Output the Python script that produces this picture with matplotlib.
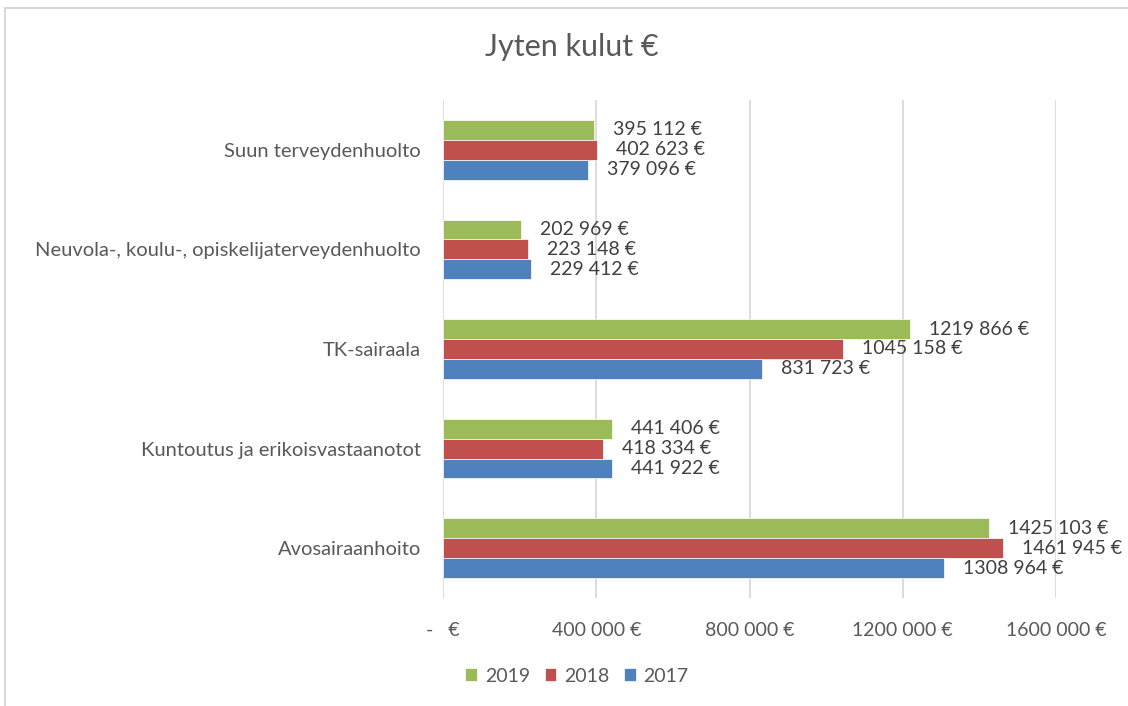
import matplotlib.pyplot as plt
import numpy as np
from matplotlib.patches import Rectangle

# data (bottom to top)
categories = ["Avosairaanhoito", "Kuntoutus ja erikoisvastaanotot", "TK-sairaala",
              "Neuvola-, koulu-, opiskelijaterveydenhuolto", "Suun terveydenhuolto"]
years = ["2019", "2018", "2017"]
v2019 = [1425103, 441406, 1219866, 202969, 395112]
v2018 = [1461945, 418334, 1045158, 223148, 402623]
v2017 = [1308964, 441922, 831723, 229412, 379096]
xticks = [0, 400000, 800000, 1200000, 1600000]
xtick_labels = ["-   €", "400 000 €", "800 000 €", "1200 000 €", "1600 000 €"]

colors = {"2019": "#9bbb59", "2018": "#c0504d", "2017": "#4f81bd"}
series = {"2019": v2019, "2018": v2018, "2017": v2017}
text_col = "#595959"

plt.rcParams['font.family'] = ['Lato', 'DejaVu Sans']


def fmt(v):
    # same look as the excel labels: only the last thousands gets a space
    return f"{v // 1000} {v % 1000:03d} €"


fig = plt.figure(figsize=(11.28, 7.06), dpi=100)
ax = fig.add_axes([443 / 1128, 1 - 598 / 706, 613 / 1128, 498 / 706])

y = np.arange(len(categories))
h = 0.2
offsets = {"2019": h, "2018": 0, "2017": -h}

for yr in years:
    vals = series[yr]
    bars = ax.barh(y + offsets[yr], vals, height=h, color=colors[yr],
                   edgecolor="white", linewidth=0.5, label=yr, zorder=3)
    for b, v in zip(bars, vals):
        ax.annotate(fmt(v), (b.get_width(), b.get_y() + b.get_height() / 2),
                    xytext=(19, 0), textcoords="offset pixels",
                    va="center", ha="left", fontsize=14, color="#404040")

ax.set_xlim(0, 1600000)
ax.set_ylim(-0.5, len(categories) - 0.5)
ax.set_xticks(xticks)
ax.set_xticklabels(xtick_labels, fontsize=14, color=text_col)
ax.set_yticks(y)
ax.set_yticklabels(categories, fontsize=14.5, color=text_col)
ax.tick_params(axis="both", length=0)
ax.tick_params(axis="x", pad=17)
ax.tick_params(axis="y", pad=16)
ax.grid(axis="x", color="#d9d9d9", linewidth=1.3, zorder=0)
for s in ax.spines.values():
    s.set_visible(False)

fig.suptitle("Jyten kulut €", x=0.507, y=1 - 47 / 706, va="center",
             fontsize=22, color=text_col)

ax.legend(loc="center", bbox_to_anchor=(577 / 1128, 1 - 676 / 706),
          bbox_transform=fig.transFigure, ncol=3, frameon=False,
          fontsize=14, labelcolor=text_col, handlelength=0.6, handleheight=0.6,
          handletextpad=0.4, columnspacing=0.75)

# light frame around the chart
fig.patches.append(Rectangle((5 / 1128, -0.1), 1.2, 1 - 8 / 706 + 0.1,
                             transform=fig.transFigure, fill=False,
                             edgecolor="#d9d9d9", linewidth=1.5))

fig.savefig("out.png", dpi=100)
